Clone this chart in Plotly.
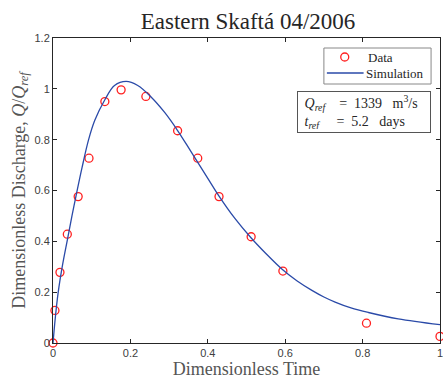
import plotly.graph_objects as go

# Observed data (dimensionless)
data_t = [0.0, 0.005, 0.018, 0.037, 0.065, 0.093, 0.134, 0.176, 0.240, 0.322, 0.374, 0.429, 0.512, 0.594, 0.810, 1.0]
data_q = [0.0, 0.128, 0.278, 0.428, 0.576, 0.727, 0.950, 0.996, 0.970, 0.835, 0.727, 0.576, 0.418, 0.283, 0.078, 0.026]

# Simulation curve
sim_t = [0.0, 0.006, 0.0135, 0.025, 0.037, 0.049, 0.061, 0.075, 0.092, 0.108, 0.134, 0.159, 0.189,
         0.219, 0.254, 0.288, 0.322, 0.357, 0.40, 0.429, 0.47, 0.511, 0.55, 0.592, 0.63, 0.669,
         0.70, 0.729, 0.77, 0.815, 0.892, 1.0]
sim_q = [0.0, 0.10, 0.20, 0.31, 0.405, 0.50, 0.59, 0.69, 0.80, 0.876, 0.957, 1.013, 1.029,
         1.013, 0.967, 0.908, 0.836, 0.752, 0.648, 0.578, 0.49, 0.415, 0.352, 0.290, 0.245, 0.207,
         0.181, 0.161, 0.138, 0.12, 0.095, 0.072]

x_ticks = [0, 0.2, 0.4, 0.6, 0.8, 1]
x_labels = ["0", "0.2", "0.4", "0.6", "0.8", "1"]
y_ticks = [0, 0.2, 0.4, 0.6, 0.8, 1, 1.2]
y_labels = ["0", "0.2", "0.4", "0.6", "0.8", "1", "1.2"]

serif = "Liberation Serif, DejaVu Serif, serif"
sans = "Liberation Sans, Arial, sans-serif"
axcol = "#262626"
red = "#ff2020"
blue = "#2a4aa8"

ML, MT, PW, PH = 53, 38, 390, 305


def px(x):
    return (x - ML) / PW


def py(y):
    return 1 - (y - MT) / PH


fig = go.Figure()
fig.add_trace(go.Scatter(
    x=data_t, y=data_q, mode="markers", name="Data",
    marker=dict(symbol="circle-open", size=8, color=red, line=dict(width=1.3, color=red)),
    cliponaxis=False))
fig.add_trace(go.Scatter(
    x=sim_t, y=sim_q, mode="lines", name="Simulation", line_shape="spline",
    line=dict(color=blue, width=1.3, smoothing=1.0)))

axis_common = dict(
    showline=True, linecolor=axcol, linewidth=1, mirror="ticks",
    ticks="inside", ticklen=4, tickcolor=axcol, showgrid=False, zeroline=False,
    tickfont=dict(family=sans, size=11, color="#404040"),
)

fig.update_layout(
    width=443, height=384,
    margin=dict(l=ML, r=0, t=MT, b=41),
    paper_bgcolor="white", plot_bgcolor="white",
    title=dict(text="Eastern Skaftá 04/2006", x=(53 + 443) / 2 / 443, xanchor="center",
               y=1 - 21 / 384, yanchor="middle",
               font=dict(family=serif, size=23, color="#262626")),
    xaxis=dict(range=[0, 1], tickvals=x_ticks, ticktext=x_labels, ticklabeloverflow="allow",
               title=dict(text="Dimensionless Time", font=dict(family=serif, size=18, color="#555555"),
                          standoff=4),
               **axis_common),
    yaxis=dict(range=[0, 1.2], tickvals=y_ticks, ticktext=y_labels,
               title=dict(text="Dimensionless Discharge, <i>Q</i>/<i>Q<sub>ref</sub></i>",
                          font=dict(family=serif, size=18, color="#555555"), standoff=4),
               **axis_common),
    showlegend=False,
)

# Legend drawn by hand (compact, like the reference)
fig.add_shape(type="rect", xref="paper", yref="paper",
              x0=px(326), x1=px(434), y0=py(84), y1=py(48),
              line=dict(color="#888888", width=1), fillcolor="white", layer="above")
fig.add_shape(type="circle", xref="paper", yref="paper", xsizemode="pixel", ysizemode="pixel",
              xanchor=px(347), yanchor=py(57), x0=-4, x1=4, y0=-4, y1=4,
              line=dict(color=red, width=1.3), layer="above")
fig.add_shape(type="line", xref="paper", yref="paper",
              x0=px(329), x1=px(366), y0=py(73), y1=py(73),
              line=dict(color=blue, width=1.6), layer="above")
fig.add_annotation(xref="paper", yref="paper", x=px(368), y=py(57), xanchor="left", yanchor="middle",
                   text="Data", showarrow=False, font=dict(family=serif, size=13, color="#262626"))
fig.add_annotation(xref="paper", yref="paper", x=px(366), y=py(73), xanchor="left", yanchor="middle",
                   text="Simulation", showarrow=False, font=dict(family=serif, size=13, color="#262626"))

fig.add_annotation(
    xref="paper", yref="paper", x=px(434), y=py(91), xanchor="right", yanchor="top",
    text="&nbsp;<i>Q<sub>ref</sub></i>&nbsp;&nbsp;&nbsp;&nbsp;=&nbsp;&nbsp;1339&nbsp;&nbsp;&nbsp;m<sup>3</sup>/s<br>"
         "&nbsp;<i>t<sub>ref</sub></i>&nbsp;&nbsp;&nbsp;&nbsp;&nbsp;=&nbsp;&nbsp;5.2&nbsp;&nbsp;&nbsp;days",
    width=126, height=34,
    showarrow=False, align="left", bgcolor="white", bordercolor="#555555", borderwidth=1,
    borderpad=3, font=dict(family=serif, size=14, color="#262626"))

fig.write_html("out.html")
